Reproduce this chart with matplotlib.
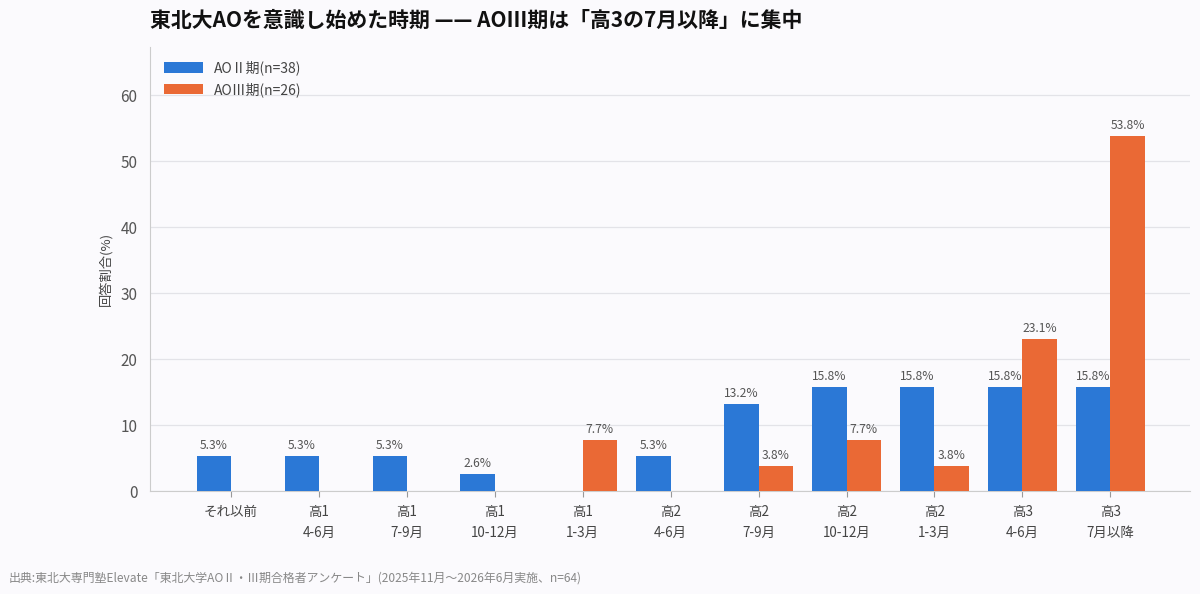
import matplotlib
matplotlib.use("Agg")
import matplotlib.pyplot as plt
import numpy as np

plt.rcParams['font.family'] = ['Noto Sans CJK JP', 'DejaVu Sans']

categories = ["それ以前", "高1\n4-6月", "高1\n7-9月", "高1\n10-12月", "高1\n1-3月",
              "高2\n4-6月", "高2\n7-9月", "高2\n10-12月", "高2\n1-3月", "高3\n4-6月", "高3\n7月以降"]
ao2 = [5.3, 5.3, 5.3, 2.6, 0, 5.3, 13.2, 15.8, 15.8, 15.8, 15.8]
ao3 = [0, 0, 0, 0, 7.7, 0, 3.8, 7.7, 3.8, 23.1, 53.8]
series_names = ["AOⅡ期(n=38)", "AOⅢ期(n=26)"]

bg = "#fbfafd"
blue = "#2b78d6"
orange = "#ea6935"

fig = plt.figure(figsize=(12, 5.94), dpi=100, facecolor=bg)
ax = fig.add_axes([0.125, 0.173, 0.867, 0.748])
ax.set_facecolor(bg)

x = np.arange(len(categories))
w = 0.39
b1 = ax.bar(x - w/2, ao2, w, color=blue, label=series_names[0], zorder=3)
b2 = ax.bar(x + w/2, ao3, w, color=orange, label=series_names[1], zorder=3)

for bars, vals in ((b1, ao2), (b2, ao3)):
    for r, v in zip(bars, vals):
        if v > 0:
            ax.text(r.get_x() + r.get_width()/2, v + 0.6, f"{v:.1f}%", ha="center", va="bottom",
                    fontsize=8.7, color="#555555", zorder=4)

ax.set_xlim(-0.92, 10.91)
ax.set_ylim(0, 67.3)
ax.set_yticks([0, 10, 20, 30, 40, 50, 60])
ax.set_xticks(x)
ax.set_xticklabels(categories, fontsize=9.7, color="#444444", linespacing=1.6)
ax.tick_params(axis='y', labelsize=11, colors="#555555", length=0, pad=9)
ax.tick_params(axis='x', length=4, color="#999999", pad=6)
ax.grid(axis='y', color="#e3e3e8", linewidth=0.9, zorder=0)
for s in ("top", "right"):
    ax.spines[s].set_visible(False)
ax.spines["left"].set_color("#cccccc")
ax.spines["bottom"].set_color("#cccccc")
ax.set_ylabel("回答割合(%)", fontsize=9.5, color="#444444", labelpad=6)

leg = ax.legend(loc="upper left", frameon=False, fontsize=10, handlelength=2.8, handleheight=0.8,
                labelspacing=0.45, borderaxespad=0.6)
for t in leg.get_texts():
    t.set_color("#444444")

fig.text(0.125, 0.966, "東北大AOを意識し始めた時期 —— AOⅢ期は「高3の7月以降」に集中",
         fontsize=15, fontweight="bold", color="#111111", ha="left", va="center")
fig.text(0.007, 0.027, "出典:東北大専門塾Elevate「東北大学AOⅡ・Ⅲ期合格者アンケート」(2025年11月〜2026年6月実施、n=64)",
         fontsize=8.6, color="#888888", ha="left", va="center")

fig.savefig("out.png", dpi=100, facecolor=bg)
